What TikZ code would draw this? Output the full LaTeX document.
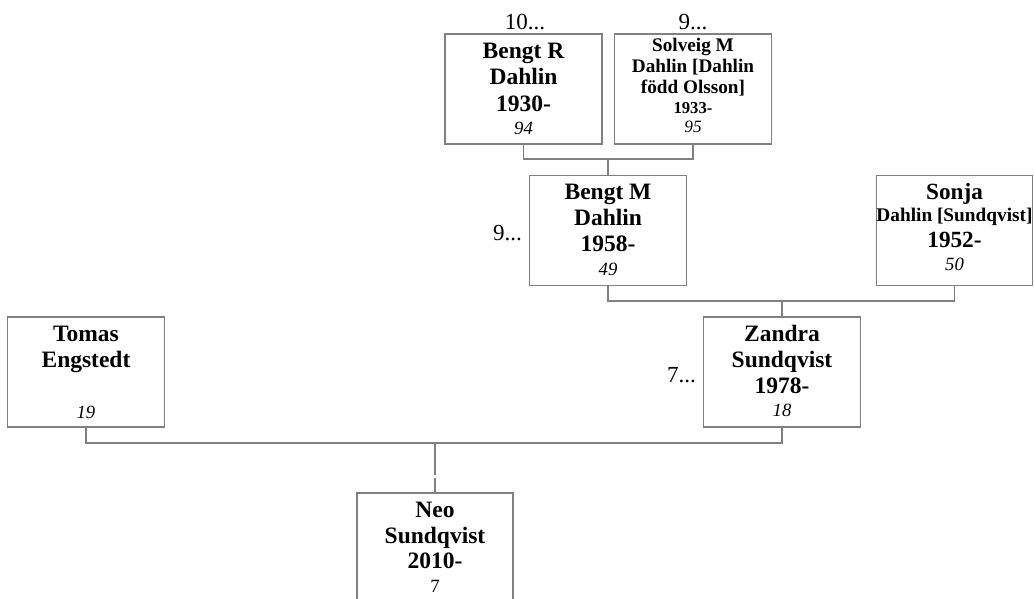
\documentclass[tikz,border=0pt]{standalone}
\usepackage{fontspec}
\setmainfont{Liberation Serif}
\definecolor{linegray}{HTML}{808080}
\newcommand\ptxt[1]{\vtop{\hsize=170pt\parindent=0pt\parskip=0pt\lineskiplimit=-1000pt\centering #1}}
\newcommand\pline[4]{{\fontsize{#1}{#2}\selectfont#3 #4\par}}
\tikzset{
  box/.style={draw=linegray, line width=1.3pt, minimum width=157pt, minimum height=110pt, inner sep=0pt},
  conn/.style={draw=linegray, line width=1.3pt},
  txt/.style={anchor=base, inner sep=0pt},
  lbl/.style={inner sep=0pt, font=\fontsize{23}{27}\selectfont}
}
\begin{document}
\begin{tikzpicture}[x=1pt, y=-1pt]
\useasboundingbox (0,0) rectangle (1034,598);
% boxes
\node[box] (bengtR) at (523.5,89) {};
\node[box] (solveig) at (693,89) {};
\node[box] (bengtM) at (608,230.5) {};
\node[box, minimum width=156pt] (sonja) at (954.5,230.5) {};
\node[box] (tomas) at (86,372) {};
\node[box] (zandra) at (782,372) {};
\node[box, minimum width=156pt] (neo) at (435,548) {};
% texts
\node[txt] (bengtRt) at ([yshift=-25pt]bengtR.north) {\ptxt{%
  \pline{23.5}{26}{\bfseries}{Bengt R}\pline{23.5}{26.5}{\bfseries}{Dahlin}\pline{23.5}{26.5}{\bfseries}{1930-}\pline{18.7}{23}{\itshape}{94}}};
\node[txt] (solveigt) at ([yshift=-18pt]solveig.north) {\ptxt{%
  \pline{19.2}{21}{\bfseries}{Solveig M}\pline{19.2}{21.5}{\bfseries}{Dahlin [Dahlin}\pline{19.2}{20.5}{\bfseries}{född Olsson]}\pline{16.7}{20.5}{\bfseries}{1933-}\pline{17.3}{18.5}{\itshape}{95}}};
\node[txt] (bengtMt) at ([yshift=-24.5pt]bengtM.north) {\ptxt{%
  \pline{23.5}{26}{\bfseries}{Bengt M}\pline{23.5}{26.5}{\bfseries}{Dahlin}\pline{23.5}{26}{\bfseries}{1958-}\pline{18.7}{23.5}{\itshape}{49}}};
\node[txt] (sonjat) at ([yshift=-25pt]sonja.north) {\ptxt{%
  \pline{23.2}{26}{\bfseries}{Sonja}\pline{19.3}{22}{\bfseries}{Dahlin [Sundqvist]}\pline{23.2}{26}{\bfseries}{1952-}\pline{18.7}{23}{\itshape}{50}}};
\node[txt] (tomast) at ([yshift=-25.5pt]tomas.north) {\ptxt{%
  \pline{23.5}{26}{\bfseries}{Tomas}\pline{23.5}{25.5}{\bfseries}{Engstedt}\pline{18.7}{51}{\itshape}{19}}};
\node[txt] (zandrat) at ([yshift=-25.5pt]zandra.north) {\ptxt{%
  \pline{23.5}{26}{\bfseries}{Zandra}\pline{23.5}{25.5}{\bfseries}{Sundqvist}\pline{23.5}{26}{\bfseries}{1978-}\pline{18.7}{23}{\itshape}{18}}};
\node[txt] (neot) at ([yshift=-25pt]neo.north) {\ptxt{%
  \pline{23.5}{26}{\bfseries}{Neo}\pline{23.5}{26}{\bfseries}{Sundqvist}\pline{23.5}{25}{\bfseries}{2010-}\pline{18.7}{24}{}{7}}};
% generation labels
\node[lbl, anchor=base] (l10) at (525,29) {10...};
\node[lbl, anchor=base] (l9a) at (693,29) {9...};
\node[lbl, anchor=base east] (l9b) at (522,240) {9...};
\node[lbl, anchor=base east] (l7) at (696,382) {7...};
% connectors
\coordinate (j1) at (bengtM.north |- 0,159);
\draw[conn] (bengtR.south) |- (j1) -| (solveig.south);
\draw[conn] (j1) -- (bengtM.north);
\coordinate (j2) at (zandra.north |- 0,301);
\draw[conn] (bengtM.south) |- (j2) -| (sonja.south);
\draw[conn] (j2) -- (zandra.north);
\coordinate (j3) at (neo.north |- 0,443);
\draw[conn] (tomas.south) |- (j3) -| (zandra.south);
\coordinate (g1) at (neo.north |- 0,475);
\coordinate (g2) at (neo.north |- 0,478);
\draw[conn] (j3) -- (g1);
\draw[conn] (g2) -- (neo.north);
\end{tikzpicture}
\end{document}
